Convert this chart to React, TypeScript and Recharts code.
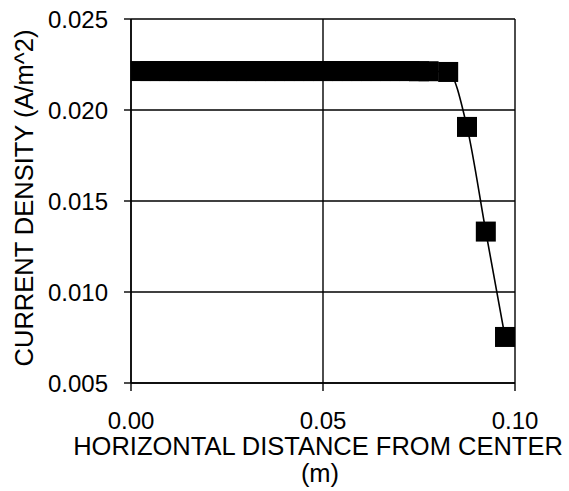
import React from 'react';
import { LineChart, Line, XAxis, YAxis, CartesianGrid, Label } from 'recharts';

// Horizontal distance from the center (m)
const distance = [
  0.0025, 0.005, 0.0075, 0.01, 0.0125, 0.015, 0.0175, 0.02, 0.0225, 0.025,
  0.0275, 0.03, 0.0325, 0.035, 0.0375, 0.04, 0.0425, 0.045, 0.0475, 0.05,
  0.0525, 0.055, 0.0575, 0.06, 0.0625, 0.065, 0.0675, 0.07, 0.0725, 0.075,
  0.0775, 0.0826, 0.0875, 0.0924, 0.0974,
];

// Current density (A/m^2)
const density = [
  0.02214, 0.02214, 0.02214, 0.02214, 0.02214, 0.02214, 0.02214, 0.02214, 0.02214, 0.02214,
  0.02214, 0.02214, 0.02214, 0.02214, 0.02214, 0.02214, 0.02214, 0.02214, 0.02214, 0.02214,
  0.02214, 0.02214, 0.02214, 0.02214, 0.02214, 0.02214, 0.02214, 0.02214, 0.02214, 0.02213,
  0.02213, 0.02209, 0.01907, 0.01332, 0.00753,
];

const xTicks = [0, 0.05, 0.1];
const yTicks = [0.005, 0.01, 0.015, 0.02, 0.025];

const data = distance.map((x, i) => ({ x, j: density[i] }));

const FONT = 'Arial, "Liberation Sans", sans-serif';
const INK = '#000';

const SquareDot = (props: any) => {
  const { cx, cy, index } = props;
  if (cx == null || cy == null) return null;
  const s = 20;
  return <rect key={`sq-${index}`} x={cx - s / 2} y={cy - s / 2} width={s} height={s} fill={INK} />;
};

const YTitle = (props: any) => {
  const vb = props.viewBox || {};
  const cy = (vb.y ?? 0) + (vb.height ?? 0) / 2 - 3;
  return (
    <text
      x={24}
      y={cy}
      transform={`rotate(-90, 24, ${cy})`}
      textAnchor="middle"
      dominantBaseline="central"
      fontFamily={FONT}
      fontSize={25.5}
      fill={INK}
    >
      CURRENT DENSITY (A/m^2)
    </text>
  );
};

const XTitle = () => (
  <text textAnchor="middle" fontFamily={FONT} fontSize={25.5} fill={INK}>
    <tspan x={318} y={455}>HORIZONTAL DISTANCE FROM CENTER</tspan>
    <tspan x={320} y={482}>(m)</tspan>
  </text>
);

export default function App() {
  return (
    <div style={{ position: 'absolute', left: 0, top: 0, width: 569, height: 491, background: '#fff' }}>
      <LineChart width={569} height={491} data={data} margin={{ top: 19, right: 54, bottom: 0, left: 0 }}>
        <CartesianGrid stroke={INK} strokeWidth={1.4} horizontal vertical />
        <XAxis
          dataKey="x"
          type="number"
          domain={[0, 0.1]}
          ticks={xTicks}
          interval={0}
          height={108}
          tickFormatter={(v: number) => v.toFixed(2)}
          tickSize={8}
          tickMargin={21}
          stroke={INK}
          strokeWidth={1.4}
          tick={{ fill: INK, fontSize: 24, fontFamily: FONT }}
        >
          <Label content={<XTitle />} />
        </XAxis>
        <YAxis
          type="number"
          domain={[0.005, 0.025]}
          ticks={yTicks}
          interval={0}
          width={131}
          tickFormatter={(v: number) => v.toFixed(3)}
          tickSize={7}
          tickMargin={16}
          stroke={INK}
          strokeWidth={1.4}
          tick={{ fill: INK, fontSize: 24, fontFamily: FONT }}
        >
          <Label content={<YTitle />} />
        </YAxis>
        <Line
          dataKey="j"
          type="monotone"
          stroke={INK}
          strokeWidth={1.6}
          dot={<SquareDot />}
          activeDot={false}
          isAnimationActive={false}
        />
      </LineChart>
    </div>
  );
}
